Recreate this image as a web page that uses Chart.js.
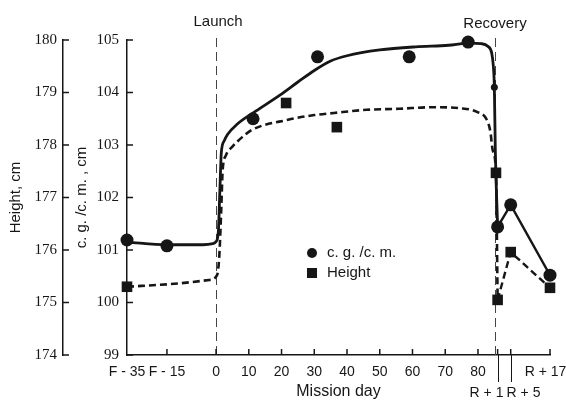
<!DOCTYPE html>
<html>
<head>
<meta charset="utf-8">
<title>Height and c.g./c.m. by mission day</title>
<script src="https://cdn.jsdelivr.net/npm/chart.js@4.4.1/dist/chart.umd.min.js"></script>
<style>
  html, body { margin: 0; padding: 0; background: #fff; }
  #wrap { width: 566px; height: 401px; }
</style>
</head>
<body>
<div id="wrap"><canvas id="chart"></canvas></div>
<script>
// x runs in flight days; pre-flight is squeezed (F-35 sits at -27.2),
// post-flight days count from recovery (R + n -> 85 + n)
const xTicks = [-27.2, -15, 0, 10, 20, 30, 40, 50, 60, 70, 80, 86, 90, 102];
const xTickLabels = ['F - 35', 'F - 15', '0', '10', '20', '30', '40', '50', '60', '70', '80', '', '', ''];
const launchDay = 0;
const recoveryDay = 85.2;
const postTickLabels = ['R + 1', 'R + 5', 'R + 17'];
const postTickDays = [86, 90, 102];

// measured points
const cgDays = [-27.2, -15, 11.3, 31, 59, 77, 85, 86, 90, 102];
const cgValues = [101.19, 101.08, 103.5, 104.68, 104.68, 104.96, 104.1, 101.44, 101.86, 100.52];
const heightDays = [-27.2, 21.4, 36.9, 85.5, 86, 90, 102];
const heightValues = [175.3, 178.8, 178.34, 177.47, 175.05, 175.96, 175.28];

// faired curves through flight
const cgCurveDays = [-27.2, -15, -4, -1, 0, 0.7, 1.2, 1.6, 2.5, 3.5, 6.5, 12, 19.5, 25, 30, 35, 40, 50, 61, 71, 77, 81, 83, 84.2, 84.7, 85, 85.3, 86];
const cgCurveValues = [101.15, 101.1, 101.1, 101.12, 101.16, 101.35, 102.2, 102.85, 103.08, 103.2, 103.4, 103.64, 103.95, 104.2, 104.42, 104.6, 104.7, 104.81, 104.87, 104.9, 104.94, 104.93, 104.88, 104.75, 104.5, 104.1, 102.9, 101.44];
const heightCurveDays = [-27.2, -14, -2, 0.3, 1.0, 1.6, 2.0, 3.0, 5, 8, 11, 22, 30, 36, 46, 56, 66, 74.5, 79.7, 82.7, 83.8, 84.5, 85.5, 86];
const heightCurveValues = [175.3, 175.35, 175.43, 175.52, 175.9, 176.8, 177.5, 177.8, 177.97, 178.15, 178.29, 178.48, 178.57, 178.61, 178.67, 178.69, 178.72, 178.7, 178.63, 178.48, 178.25, 177.9, 177.47, 175.05];

// post-flight, straight segments
const cgPostDays = [86, 90, 102];
const cgPostValues = [101.44, 101.86, 100.52];
const heightPostDays = [86, 90, 102];
const heightPostValues = [175.05, 175.96, 175.28];

const INK = '#161616';
const SANS = '"Liberation Sans", Arial, sans-serif';
const SERIF = '"Liberation Serif", "Times New Roman", serif';

const pts = (xs, ys) => xs.map((x, i) => ({ x: x, y: ys[i] }));

const marks = {
  id: 'marks',
  beforeDatasetsDraw(chart) {
    const { ctx, chartArea: a, scales: { x } } = chart;
    ctx.save();
    ctx.strokeStyle = '#444';
    ctx.lineWidth = 1;
    ctx.setLineDash([9, 5]);
    [launchDay, recoveryDay].forEach(d => {
      const px = Math.round(x.getPixelForValue(d)) + 0.5;
      ctx.beginPath();
      ctx.moveTo(px, a.top - 2);
      ctx.lineTo(px, a.bottom);
      ctx.stroke();
    });
    ctx.restore();
  },
  afterDraw(chart) {
    const { ctx, chartArea: a, scales } = chart;
    const x = scales.x;
    ctx.save();
    ctx.strokeStyle = INK;
    ctx.lineWidth = 1.5;

    // inward tick marks
    ['y', 'yh'].forEach(id => {
      const s = scales[id];
      s.ticks.forEach(t => {
        const py = s.getPixelForValue(t.value);
        ctx.beginPath();
        ctx.moveTo(s.right, py);
        ctx.lineTo(s.right + 6, py);
        ctx.stroke();
      });
    });
    x.ticks.forEach((t, i) => {
      if (i === 0) return;
      const px = x.getPixelForValue(t.value);
      ctx.beginPath();
      ctx.moveTo(px, a.bottom);
      ctx.lineTo(px, a.bottom - 6);
      ctx.stroke();
    });

    // post-flight labels: R + 1 / R + 5 on a second row with leaders
    ctx.lineWidth = 1;
    ctx.fillStyle = INK;
    ctx.font = '14px ' + SANS;
    ctx.textBaseline = 'middle';
    ctx.textAlign = 'center';
    postTickDays.forEach((d, i) => {
      const px = Math.round(x.getPixelForValue(d)) + 0.5;
      if (i === 2) {
        ctx.fillText(postTickLabels[i], px - 5, a.bottom + 17);
        return;
      }
      ctx.beginPath();
      ctx.moveTo(px, a.bottom);
      ctx.lineTo(px, a.bottom + 27);
      ctx.stroke();
      ctx.fillText(postTickLabels[i], px + (i === 0 ? -12 : 12), a.bottom + 38);
    });

    // event labels
    ctx.font = '15px ' + SANS;
    ctx.fillText('Launch', x.getPixelForValue(launchDay) + 2, a.top - 18);
    ctx.fillText('Recovery', x.getPixelForValue(recoveryDay), a.top - 16);

    // key
    const kx = 312, ky = 253;
    ctx.beginPath();
    ctx.arc(kx, ky, 5, 0, Math.PI * 2);
    ctx.fill();
    ctx.fillRect(kx - 5, ky + 15, 10, 10);
    ctx.textAlign = 'left';
    ctx.font = '15px ' + SANS;
    ctx.fillText('c. g. /c. m.', kx + 15, ky);
    ctx.fillText('Height', kx + 15, ky + 20);
    ctx.restore();
  }
};

new Chart(document.getElementById('chart'), {
  type: 'scatter',
  data: {
    datasets: [
      {
        label: 'c.g./c.m. curve',
        data: pts(cgCurveDays, cgCurveValues),
        yAxisID: 'y',
        showLine: true,
        borderColor: INK,
        borderWidth: 2.8,
        pointRadius: 0,
        cubicInterpolationMode: 'monotone'
      },
      {
        label: 'c.g./c.m. post',
        data: pts(cgPostDays, cgPostValues),
        yAxisID: 'y',
        showLine: true,
        borderColor: INK,
        borderWidth: 2.4,
        pointRadius: 0,
        tension: 0
      },
      {
        label: 'Height curve',
        data: pts(heightCurveDays, heightCurveValues),
        yAxisID: 'yh',
        showLine: true,
        borderColor: INK,
        borderWidth: 2.6,
        borderDash: [7, 4],
        pointRadius: 0,
        cubicInterpolationMode: 'monotone'
      },
      {
        label: 'Height post',
        data: pts(heightPostDays, heightPostValues),
        yAxisID: 'yh',
        showLine: true,
        borderColor: INK,
        borderWidth: 2.4,
        borderDash: [7, 4],
        pointRadius: 0,
        tension: 0
      },
      {
        label: 'c. g. /c. m.',
        data: pts(cgDays, cgValues),
        yAxisID: 'y',
        clip: false,
        pointStyle: 'circle',
        // the recovery-day reading sits mostly under the curve
        pointRadius: cgDays.map(d => (d === 85 ? 3.5 : 6.5)),
        backgroundColor: INK,
        borderColor: INK,
        borderWidth: 0
      },
      {
        label: 'Height',
        data: pts(heightDays, heightValues),
        yAxisID: 'yh',
        clip: false,
        pointStyle: 'rect',
        pointRadius: 7.5,
        backgroundColor: INK,
        borderColor: INK,
        borderWidth: 0
      }
    ]
  },
  options: {
    responsive: true,
    maintainAspectRatio: false,
    animation: false,
    layout: { padding: { top: 40, right: 16, bottom: 0, left: 0 } },
    plugins: {
      legend: { display: false },
      tooltip: { enabled: false }
    },
    scales: {
      x: {
        type: 'linear',
        min: -27.2,
        max: 102,
        afterBuildTicks: s => { s.ticks = xTicks.map(v => ({ value: v })); },
        afterFit: s => { s.height = 46; s.paddingLeft = 0; s.paddingRight = 0; },
        grid: { display: false, drawTicks: false },
        border: { display: true, color: INK, width: 1.5 },
        ticks: {
          autoSkip: false,
          maxRotation: 0,
          padding: 9,
          color: INK,
          font: { family: SANS, size: 14 },
          callback: (v, i) => xTickLabels[i]
        },
        title: {
          display: true,
          text: 'Mission day',
          color: INK,
          font: { family: SANS, size: 16 },
          padding: { top: 0, bottom: 0 }
        }
      },
      y: {
        position: 'left',
        weight: 0,
        min: 99,
        max: 105,
        afterFit: s => { s.width = 64; },
        grid: { display: false, drawTicks: false },
        border: { display: true, color: INK, width: 1.5 },
        ticks: {
          stepSize: 1,
          padding: 8,
          color: INK,
          font: { family: SERIF, size: 15 }
        },
        title: {
          display: true,
          text: 'c. g. /c. m. , cm',
          color: INK,
          font: { family: SANS, size: 15 },
          padding: { top: 10, bottom: 0 }
        }
      },
      yh: {
        position: 'left',
        weight: 1,
        min: 174,
        max: 180,
        afterFit: s => { s.width = 63; },
        grid: { display: false, drawTicks: false },
        border: { display: true, color: INK, width: 1.5 },
        ticks: {
          stepSize: 1,
          padding: 6,
          color: INK,
          font: { family: SERIF, size: 15 }
        },
        title: {
          display: true,
          text: 'Height, cm',
          color: INK,
          font: { family: SANS, size: 15 },
          padding: { top: 7, bottom: 0 }
        }
      }
    }
  },
  plugins: [marks]
});
</script>
</body>
</html>
